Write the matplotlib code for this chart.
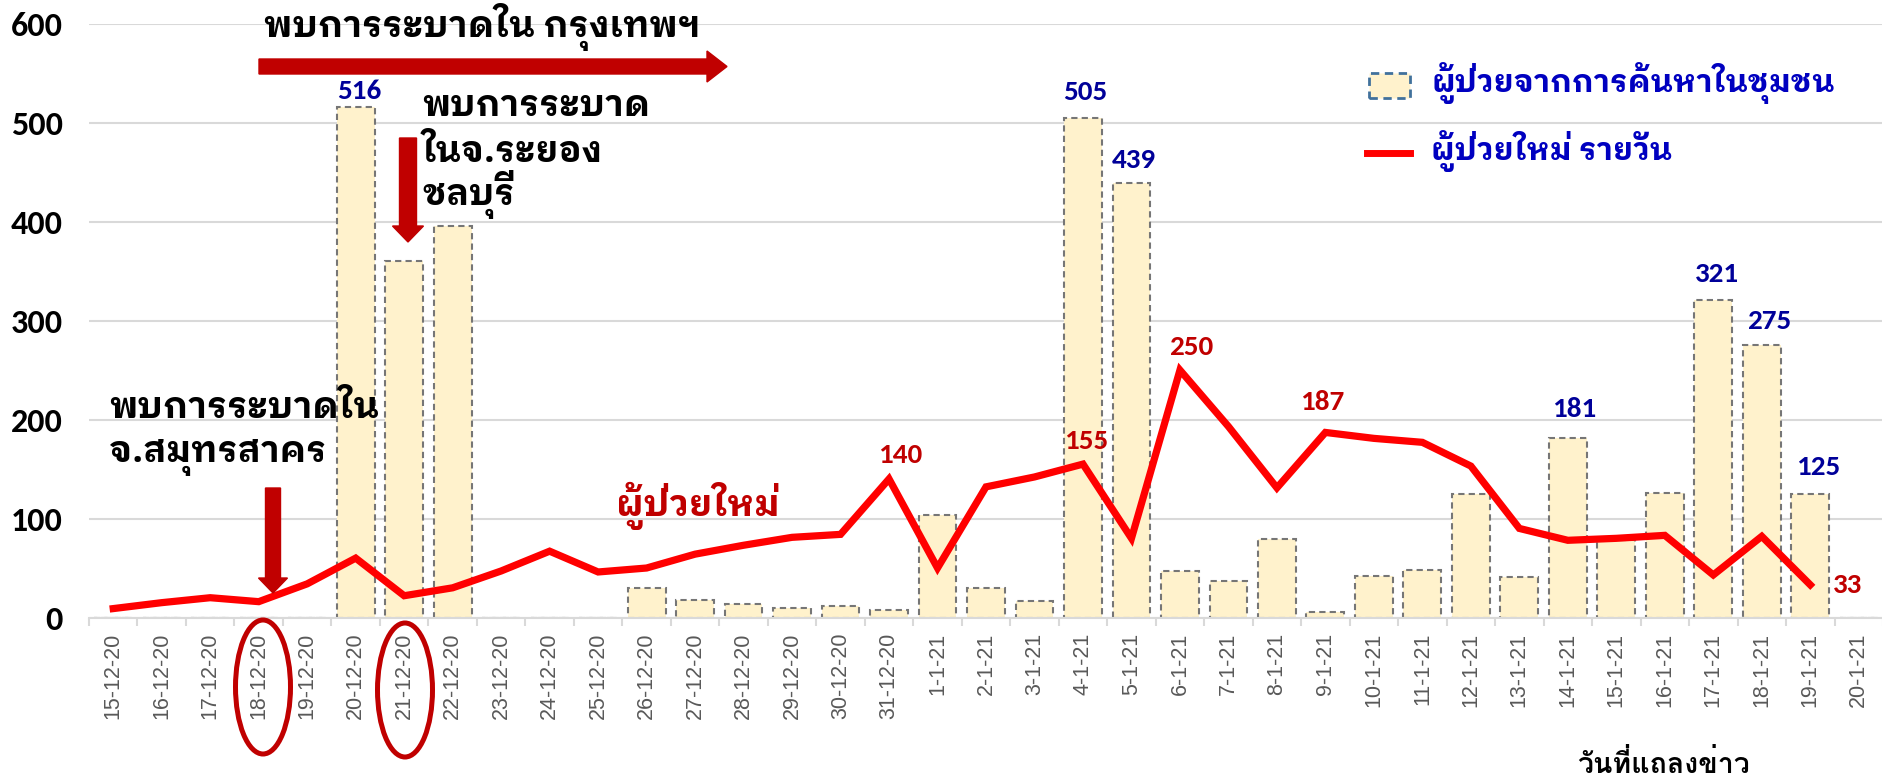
import matplotlib
matplotlib.use("Agg")
import matplotlib.pyplot as plt
from matplotlib.patches import Ellipse, FancyArrow, Rectangle
from matplotlib.lines import Line2D
from matplotlib.transforms import IdentityTransform
from matplotlib import font_manager
from matplotlib.font_manager import FontProperties
from matplotlib.ft2font import FT2Font
import numpy as np

# ---------------- data ----------------
dates = ["15-12-20", "16-12-20", "17-12-20", "18-12-20", "19-12-20", "20-12-20",
         "21-12-20", "22-12-20", "23-12-20", "24-12-20", "25-12-20", "26-12-20",
         "27-12-20", "28-12-20", "29-12-20", "30-12-20", "31-12-20",
         "1-1-21", "2-1-21", "3-1-21", "4-1-21", "5-1-21", "6-1-21", "7-1-21",
         "8-1-21", "9-1-21", "10-1-21", "11-1-21", "12-1-21", "13-1-21", "14-1-21",
         "15-1-21", "16-1-21", "17-1-21", "18-1-21", "19-1-21", "20-1-21"]
community = [0, 0, 0, 0, 0, 516, 360, 396, 0, 0, 0, 30, 18, 14, 10, 12, 8,
             104, 30, 17, 505, 439, 47, 37, 79, 6, 42, 48, 125, 41, 181,
             78, 126, 321, 275, 125, 0]
daily_new = [9, 15, 20, 16, 34, 60, 22, 30, 47, 67, 46, 50, 64, 73, 81, 84, 140,
             50, 132, 142, 155, 80, 250, 193, 131, 187, 181, 177, 153, 90, 78,
             80, 83, 43, 82, 33, None]
bar_label_dates = ["20-12-20", "4-1-21", "5-1-21", "14-1-21", "17-1-21", "18-1-21", "19-1-21"]
line_label_dates = ["31-12-20", "4-1-21", "6-1-21", "9-1-21", "19-1-21"]
legend_bar = "ผู้ป่วยจากการค้นหาในชุมชน"
legend_line = "ผู้ป่วยใหม่ รายวัน"
xlabel = "วันที่แถลงข่าว"
note_bkk = "พบการระบาดใน กรุงเทพฯ"
note_rayong = ["พบการระบาด", "ในจ.ระยอง", "ชลบุรี"]
note_samut = ["พบการระบาดใน", "จ.สมุทรสาคร"]
note_new = "ผู้ป่วยใหม่"

# ---------------- style ----------------
MAIN_THAI = "IBM Plex Sans Thai Looped"
TF = [MAIN_THAI, "DejaVu Sans"]
NUMF = ["Carlito", "DejaVu Sans"]
BAR_BLUE = "#000099"
LINE_RED = "#C00000"


def stacks_tone_above_vowel(family):
    """True if the bold face draws the tone mark above the upper vowel without shaping."""
    try:
        path = font_manager.findfont(FontProperties(family=family, weight="bold"),
                                     fallback_to_default=False)
        f = FT2Font(path)
        cm = f.get_charmap()
        if 0x0E48 not in cm or 0x0E35 not in cm:
            return False
        f.set_size(100, 72)
        tone = f.load_char(0x0E48).bbox
        vowel = f.load_char(0x0E35).bbox
        return tone[1] >= vowel[3] - 0.05 * (vowel[3] - vowel[1])
    except Exception:
        return False


XL_FONT = MAIN_THAI
for cand in [MAIN_THAI, "Noto Sans Thai Looped", "Loma", "Krub", "Niramit", "KoHo",
             "Sarabun", "Mali", "Kodchasan", "Bai Jamjuree", "Chakra Petch", "K2D",
             "Kanit", "Prompt", "Mitr", "Athiti", "Maitree", "Taviraj", "Trirong",
             "Pridi", "Thasadith", "Fahkwang", "IBM Plex Sans Thai", "Anuphan"]:
    if stacks_tone_above_vowel(cand):
        XL_FONT = cand
        break

W, H = 1883, 779
fig = plt.figure(figsize=(W / 100, H / 100), dpi=100)
ax = fig.add_axes([89 / W, (H - 617.5) / H, 1 - 89 / W, (617.5 - 23.7) / H])

x = np.arange(len(dates))
ax.bar(x, community, width=0.78, color="#FFF2CC", edgecolor="#767676",
       linewidth=1.5, linestyle=(0, (3, 2)), zorder=2)
yl = np.array([np.nan if v is None else v for v in daily_new], dtype=float)
ax.plot(x, yl, color="#FF0000", linewidth=5.2, solid_joinstyle="miter", zorder=3)

ax.set_xlim(-0.5, len(dates) - 0.5)
ax.set_ylim(0, 600)
ax.set_yticks(np.arange(0, 601, 100))
ax.grid(axis="y", color="#D9D9D9", linewidth=1.5)
ax.set_axisbelow(True)
for s in ["top", "right", "left"]:
    ax.spines[s].set_visible(False)
ax.spines["bottom"].set_color("#D9D9D9")
ax.spines["bottom"].set_linewidth(1.5)
ax.tick_params(axis="y", length=0, pad=19)
for lab in ax.get_yticklabels():
    lab.set_fontfamily(NUMF)
    lab.set_fontweight("bold")
    lab.set_fontsize(24.5)
ax.set_xticks(x)
ax.set_xticklabels(dates, rotation=90, fontsize=15.5, color="#595959",
                   family=["Liberation Sans", "DejaVu Sans"])
ax.tick_params(axis="x", which="major", length=0, pad=11)
ax.set_xticks(np.arange(-0.5, len(dates), 1), minor=True)
ax.tick_params(axis="x", which="minor", length=6, width=1.5, color="#D9D9D9")

# data labels
idx = {d: i for i, d in enumerate(dates)}
bar_off = {"20-12-20": (4, 16), "4-1-21": (2, 26), "5-1-21": (2, 23), "14-1-21": (6, 29),
           "17-1-21": (4, 26), "18-1-21": (7, 24), "19-1-21": (8, 27)}
for d in bar_label_dates:
    i = idx[d]
    dx, dy = bar_off[d]
    ax.annotate(str(community[i]), (i, community[i]), xytext=(dx, dy),
                textcoords="offset pixels", ha="center", va="center",
                color=BAR_BLUE, fontweight="bold", fontsize=21, family=NUMF, zorder=5)
line_off = {"31-12-20": (11, 24), "4-1-21": (3, 23), "6-1-21": (11, 23),
            "9-1-21": (-3, 30), "19-1-21": (37, 0)}
for d in line_label_dates:
    i = idx[d]
    dx, dy = line_off[d]
    ax.annotate(str(daily_new[i]), (i, daily_new[i]), xytext=(dx, dy),
                textcoords="offset pixels", ha="center", va="center",
                color=LINE_RED, fontweight="bold", fontsize=21, family=NUMF, zorder=5)

# ---------------- annotations in pixel coordinates ----------------
PX = IdentityTransform()
renderer = fig.canvas.get_renderer()


def ptext(s, left, baseline, width, color="black", size=None, family=None):
    """Place text with its left edge/baseline at pixel coords (from top-left),
    scaled so that its width matches the reference."""
    t = fig.text(left, H - baseline, s, transform=PX, ha="left", va="baseline",
                 fontsize=size or 20, fontweight="bold", color=color, family=family or TF)
    if width is not None:
        w = t.get_window_extent(renderer).width
        t.set_fontsize(t.get_fontsize() * width / w)
    return t


def fit_size(s, width):
    t = fig.text(0, 0, s, fontsize=20, fontweight="bold", family=TF)
    w = t.get_window_extent(renderer).width
    t.remove()
    return 20 * width / w


ptext(note_bkk, 264, 37, 436)
sz = fit_size(note_rayong[0], 228)
for s, b in zip(note_rayong, [116, 162, 205]):
    ptext(s, 422, b, None, size=sz)
sz = fit_size(note_samut[0], 270)
for s, b in zip(note_samut, [418, 462]):
    ptext(s, 109, b, None, size=sz)
ptext(note_new, 616, 516, 164, color=LINE_RED)
ptext(xlabel, 1577, 773, 173, family=[XL_FONT, "DejaVu Sans"])

# arrows
def arrow(x0, y0, x1, y1, w, hw, hl):
    fig.add_artist(FancyArrow(x0, H - y0, x1 - x0, -(y1 - y0), width=w, head_width=hw,
                              head_length=hl, length_includes_head=True,
                              color=LINE_RED, transform=PX, zorder=6))

arrow(259, 66.5, 727, 66.5, 15, 31, 20)
arrow(408, 138, 408, 242, 17, 31, 16)
arrow(273, 488, 273, 593, 15, 29, 15)

for cx, cy in [(263, 687), (405, 690)]:
    fig.add_artist(Ellipse((cx, H - cy), 55, 134, fill=False, edgecolor=LINE_RED,
                           linewidth=3.6, transform=PX))

# legend (manual)
fig.add_artist(Rectangle((1369, H - 98), 41, 25, facecolor="#FFF2CC",
                         edgecolor="#41719C", linewidth=2, linestyle=(0, (3, 2)),
                         transform=PX))
lsz = fit_size(legend_bar, 404)
ptext(legend_bar, 1431, 92, None, color="#0000C0", size=lsz)
fig.add_artist(Line2D([1367, 1410], [H - 153, H - 153], color="#FF0000",
                      linewidth=5, transform=PX))
ptext(legend_line, 1431, 160, None, color="#0000C0", size=lsz)

fig.savefig("out.png", dpi=100)
